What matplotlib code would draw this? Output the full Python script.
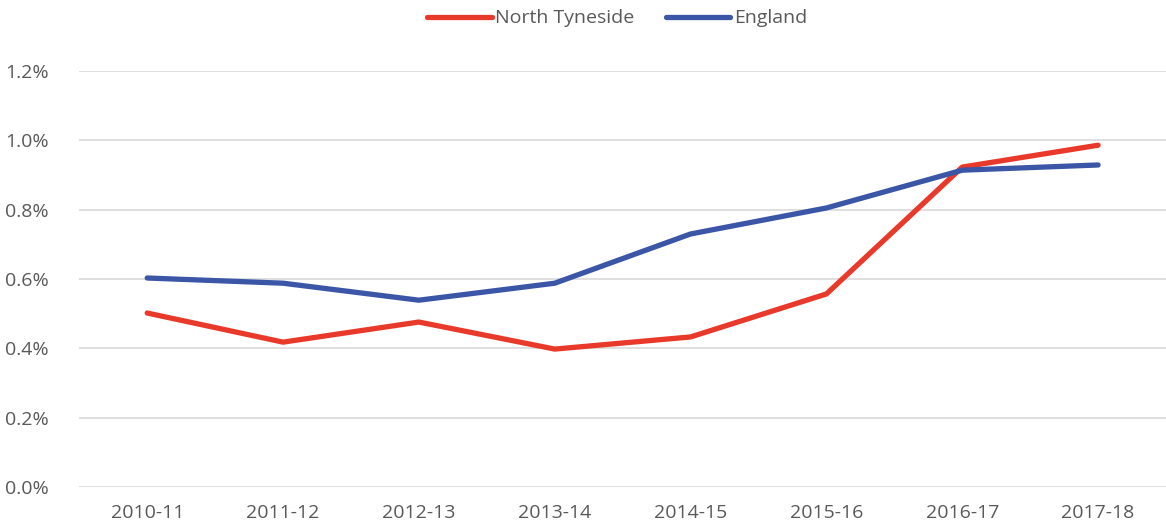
import matplotlib.pyplot as plt
from matplotlib.ticker import FuncFormatter

plt.rcParams['font.family'] = ['Open Sans', 'DejaVu Sans']

# 年份和两组数据（百分比）
years = ["2010-11", "2011-12", "2012-13", "2013-14", "2014-15", "2015-16", "2016-17", "2017-18"]
north_tyneside = [0.502, 0.418, 0.476, 0.398, 0.433, 0.557, 0.923, 0.986]
england = [0.603, 0.588, 0.539, 0.588, 0.730, 0.805, 0.914, 0.929]

fig = plt.figure(figsize=(11.66, 5.30), dpi=100)
ax = fig.add_axes([0.068, 0.081, 0.932, 0.785])

x = range(len(years))
ax.plot(x, north_tyneside, color='#E8392B', lw=3.8, solid_capstyle='round',
        solid_joinstyle='round', label="North Tyneside")
ax.plot(x, england, color='#3B56A6', lw=3.8, solid_capstyle='round',
        solid_joinstyle='round', label="England")

ax.set_xlim(-0.5, len(years) - 0.5)
ax.set_ylim(0, 1.2)
ax.set_yticks([0, 0.2, 0.4, 0.6, 0.8, 1.0, 1.2])
ax.yaxis.set_major_formatter(FuncFormatter(lambda v, p: f"{v:.1f}%"))
ax.set_xticks(list(x))
ax.set_xticklabels(years)
ax.grid(axis='y', color='#D9D9D9', lw=1.2)
ax.set_axisbelow(True)
for s in ax.spines.values():
    s.set_visible(False)
ax.tick_params(length=0, labelsize=14, colors='#595959', pad=12)
ax.tick_params(axis='y', pad=22)

leg = ax.legend(loc='upper center', bbox_to_anchor=(0.495, 1.19), ncol=2, frameon=False,
                fontsize=14, handlelength=3.3, handletextpad=0.2, columnspacing=1.6)
for t in leg.get_texts():
    t.set_color('#595959')

fig.savefig("out.png", dpi=100)
